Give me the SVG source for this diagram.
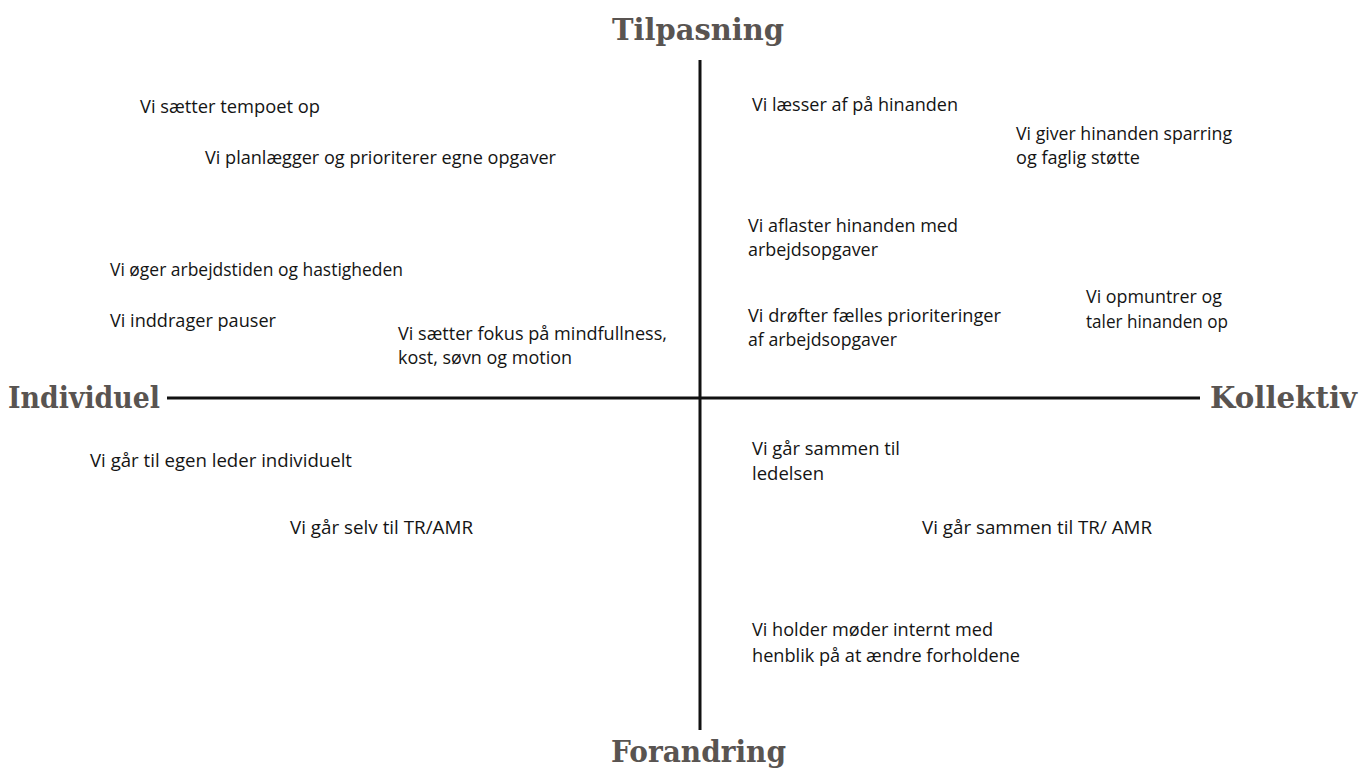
<svg xmlns="http://www.w3.org/2000/svg" width="1372" height="769" viewBox="0 0 1372 769">
  <style>
    .axis-title { font-family: "DejaVu Serif", "Liberation Serif", serif; font-weight: bold; font-size: 30px; fill: #595451; }
    .item { font-family: "Open Sans", Lato, "Liberation Sans", sans-serif; font-size: 17.5px; fill: #141414; }
    .axis { stroke: #111; stroke-width: 3; fill: none; }
  </style>
  <rect width="1372" height="769" fill="#ffffff"/>

  <!-- axes -->
  <g id="connectors">
    <line class="axis" x1="700" y1="60" x2="700" y2="730"/>
    <line class="axis" x1="167" y1="398" x2="1200" y2="398"/>
  </g>

  <!-- axis titles -->
  <g id="title-top"><text class="axis-title" x="612" y="40" textLength="172" lengthAdjust="spacingAndGlyphs">Tilpasning</text></g>
  <g id="title-left"><text class="axis-title" x="8" y="408" textLength="152" lengthAdjust="spacingAndGlyphs">Individuel</text></g>
  <g id="title-right"><text class="axis-title" x="1210" y="408" textLength="147" lengthAdjust="spacingAndGlyphs">Kollektiv</text></g>
  <g id="title-bottom"><text class="axis-title" x="611" y="762" textLength="175" lengthAdjust="spacingAndGlyphs">Forandring</text></g>

  <!-- upper left: individual adaptation -->
  <g id="item-tempo"><text class="item" x="140" y="113" textLength="180" lengthAdjust="spacingAndGlyphs">Vi sætter tempoet op</text></g>
  <g id="item-planlaegger"><text class="item" x="205" y="164" textLength="351" lengthAdjust="spacingAndGlyphs">Vi planlægger og prioriterer egne opgaver</text></g>
  <g id="item-arbejdstid"><text class="item" x="110" y="276" textLength="293" lengthAdjust="spacingAndGlyphs">Vi øger arbejdstiden og hastigheden</text></g>
  <g id="item-pauser"><text class="item" x="110" y="327" textLength="166" lengthAdjust="spacingAndGlyphs">Vi inddrager pauser</text></g>
  <g id="item-mindfullness">
    <text class="item" x="398" y="340" textLength="269" lengthAdjust="spacingAndGlyphs">Vi sætter fokus på mindfullness,</text>
    <text class="item" x="398" y="364" textLength="174" lengthAdjust="spacingAndGlyphs">kost, søvn og motion</text>
  </g>

  <!-- upper right: collective adaptation -->
  <g id="item-laesser"><text class="item" x="752" y="111" textLength="206" lengthAdjust="spacingAndGlyphs">Vi læsser af på hinanden</text></g>
  <g id="item-sparring">
    <text class="item" x="1016" y="140" textLength="216" lengthAdjust="spacingAndGlyphs">Vi giver hinanden sparring</text>
    <text class="item" x="1016" y="164" textLength="124" lengthAdjust="spacingAndGlyphs">og faglig støtte</text>
  </g>
  <g id="item-aflaster">
    <text class="item" x="748" y="232" textLength="210" lengthAdjust="spacingAndGlyphs">Vi aflaster hinanden med</text>
    <text class="item" x="748" y="256" textLength="130" lengthAdjust="spacingAndGlyphs">arbejdsopgaver</text>
  </g>
  <g id="item-droefter">
    <text class="item" x="748" y="322" textLength="253" lengthAdjust="spacingAndGlyphs">Vi drøfter fælles prioriteringer</text>
    <text class="item" x="748" y="346" textLength="149" lengthAdjust="spacingAndGlyphs">af arbejdsopgaver</text>
  </g>
  <g id="item-opmuntrer">
    <text class="item" x="1086" y="303" textLength="136" lengthAdjust="spacingAndGlyphs">Vi opmuntrer og</text>
    <text class="item" x="1086" y="328" textLength="142" lengthAdjust="spacingAndGlyphs">taler hinanden op</text>
  </g>

  <!-- lower left: individual change -->
  <g id="item-egen-leder"><text class="item" x="90" y="467" textLength="262" lengthAdjust="spacingAndGlyphs">Vi går til egen leder individuelt</text></g>
  <g id="item-selv-tr"><text class="item" x="290" y="534" textLength="183" lengthAdjust="spacingAndGlyphs">Vi går selv til TR/AMR</text></g>

  <!-- lower right: collective change -->
  <g id="item-ledelsen">
    <text class="item" x="752" y="455" textLength="148" lengthAdjust="spacingAndGlyphs">Vi går sammen til</text>
    <text class="item" x="752" y="480" textLength="72" lengthAdjust="spacingAndGlyphs">ledelsen</text>
  </g>
  <g id="item-sammen-tr"><text class="item" x="922" y="534" textLength="230" lengthAdjust="spacingAndGlyphs">Vi går sammen til TR/ AMR</text></g>
  <g id="item-moeder">
    <text class="item" x="752" y="636" textLength="241" lengthAdjust="spacingAndGlyphs">Vi holder møder internt med</text>
    <text class="item" x="752" y="662" textLength="268" lengthAdjust="spacingAndGlyphs">henblik på at ændre forholdene</text>
  </g>
</svg>
